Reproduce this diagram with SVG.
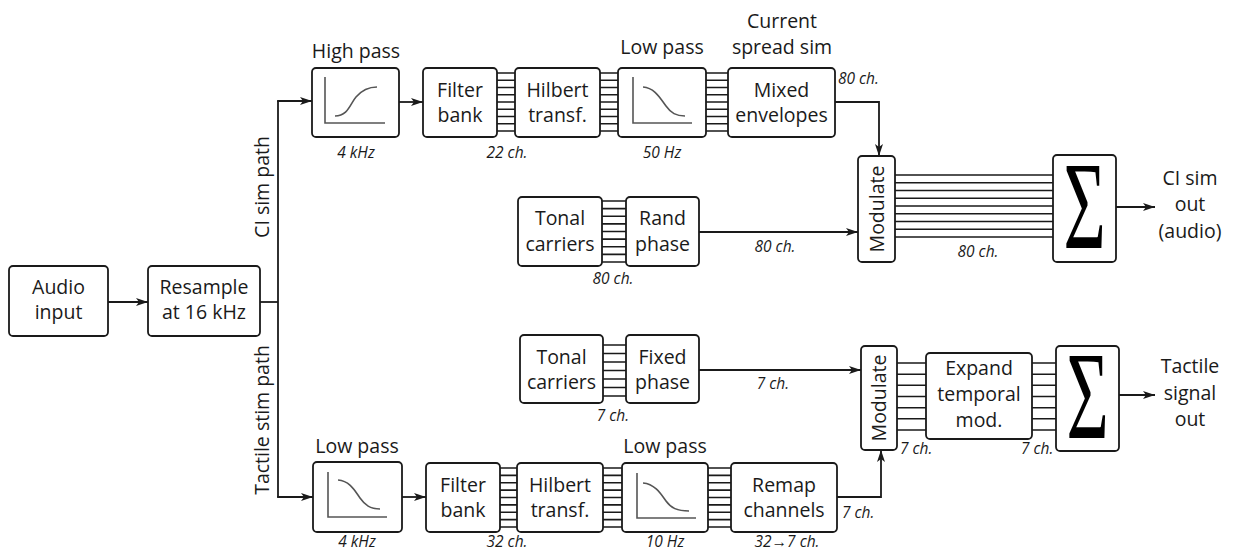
<svg xmlns="http://www.w3.org/2000/svg" width="1233" height="552" viewBox="0 0 1233 552">
<defs>
<marker id="arr" markerUnits="userSpaceOnUse" markerWidth="14" markerHeight="10" refX="12" refY="4" orient="auto">
<path d="M0,0 L12,4 L0,8 L3,4 z" fill="#1a1a1a"/>
</marker>
<style>
.box{fill:#fff;stroke:#1a1a1a;stroke-width:1.8}
.t{font-family:"Open Sans","Noto Sans",sans-serif;font-size:19.5px;fill:#1a1a1a;text-anchor:middle}
.i{font-family:"Open Sans","Noto Sans",sans-serif;font-size:15.5px;font-style:italic;fill:#1a1a1a;text-anchor:middle}
.il{font-family:"Open Sans","Noto Sans",sans-serif;font-size:15.5px;font-style:italic;fill:#1a1a1a}
.c{fill:none;stroke:#1a1a1a;stroke-width:1.8}
.a{fill:none;stroke:#1a1a1a;stroke-width:1.8;marker-end:url(#arr)}
.bus{stroke:#1a1a1a;stroke-width:1.6}
.ax{fill:none;stroke:#555;stroke-width:1.6}
.sig{font-family:"Liberation Serif",serif;font-size:125px;fill:#000;text-anchor:middle}
</style>
</defs>

<g id="connectors">
<line class="a" x1="108" y1="302" x2="148" y2="302"/>
<polyline class="c" points="260,302 278,302"/>
<polyline class="c" points="278,101 278,497"/>
<line class="a" x1="277.1" y1="101" x2="312" y2="101"/>
<line class="a" x1="277.1" y1="497" x2="313" y2="497"/>
<line class="a" x1="399" y1="102" x2="423" y2="102"/>
<line class="a" x1="402" y1="497" x2="426" y2="497"/>
<polyline class="a" points="835,102 879,102 879,156"/>
<line class="a" x1="699" y1="232" x2="858" y2="232"/>
<line class="a" x1="1116" y1="207" x2="1155" y2="207"/>
<line class="a" x1="699" y1="370" x2="861" y2="370"/>
<polyline class="a" points="837,497 881,497 881,450"/>
<line class="a" x1="1119" y1="395" x2="1155" y2="395"/>
<g id="bus-top-1">
<path class="bus" d="M497,73H515M497,80.3H515M497,87.5H515M497,94.8H515M497,102H515M497,109.3H515M497,116.5H515M497,123.8H515M497,131H515"/>
</g>
<g id="bus-top-2">
<path class="bus" d="M600,73H618M600,80.3H618M600,87.5H618M600,94.8H618M600,102H618M600,109.3H618M600,116.5H618M600,123.8H618M600,131H618"/>
</g>
<g id="bus-top-3">
<path class="bus" d="M706,73H728M706,80.3H728M706,87.5H728M706,94.8H728M706,102H728M706,109.3H728M706,116.5H728M706,123.8H728M706,131H728"/>
</g>
<g id="bus-carrier-80">
<path class="bus" d="M602,201H626M602,208.6H626M602,216.2H626M602,223.9H626M602,231.5H626M602,239.1H626M602,246.7H626M602,254.4H626M602,262H626"/>
</g>
<g id="bus-mod-sum-80">
<path class="bus" d="M895,175H1053M895,182.8H1053M895,190.5H1053M895,198.3H1053M895,206H1053M895,213.8H1053M895,221.5H1053M895,229.3H1053M895,237H1053"/>
</g>
<g id="bus-carrier-7">
<path class="bus" d="M603,345H626M603,353.5H626M603,362H626M603,370.5H626M603,379H626M603,387.5H626M603,396H626"/>
</g>
<g id="bus-bot-1">
<path class="bus" d="M500,468H517M500,475.4H517M500,482.8H517M500,490.1H517M500,497.5H517M500,504.9H517M500,512.3H517M500,519.6H517M500,527H517"/>
</g>
<g id="bus-bot-2">
<path class="bus" d="M603,468H622M603,475.4H622M603,482.8H622M603,490.1H622M603,497.5H622M603,504.9H622M603,512.3H622M603,519.6H622M603,527H622"/>
</g>
<g id="bus-bot-3">
<path class="bus" d="M708,468H731M708,475.4H731M708,482.8H731M708,490.1H731M708,497.5H731M708,504.9H731M708,512.3H731M708,519.6H731M708,527H731"/>
</g>
<g id="bus-mod-exp">
<path class="bus" d="M897,363H926M897,374.2H926M897,385.3H926M897,396.5H926M897,407.7H926M897,418.8H926M897,430H926"/>
</g>
<g id="bus-exp-sum">
<path class="bus" d="M1032,363H1056M1032,374.2H1056M1032,385.3H1056M1032,396.5H1056M1032,407.7H1056M1032,418.8H1056M1032,430H1056"/>
</g>
</g>

<g id="audio-input">
<rect class="box" x="9" y="266" width="99" height="70" rx="4"/>
<text class="t" x="58.5" y="294">Audio</text>
<text class="t" x="58.5" y="319">input</text>
</g>
<g id="resample">
<rect class="box" x="148" y="266" width="112" height="70" rx="4"/>
<text class="t" x="204" y="294">Resample</text>
<text class="t" x="204" y="319">at 16 kHz</text>
</g>
<g id="path-labels">
<text class="t" transform="translate(269,187) rotate(-90)">CI sim path</text>
<text class="t" transform="translate(269,420) rotate(-90)">Tactile stim path</text>
</g>

<g id="high-pass">
<text class="t" x="356" y="58">High pass</text>
<rect class="box" x="312" y="68" width="87" height="69" rx="4"/>
<path class="ax" d="M325,77V123H385"/>
<path class="ax" d="M335,116C348,116 350,104 356,97C362,90 368,87 377,87"/>
<text class="i" x="356" y="158">4 kHz</text>
</g>
<g id="filter-bank-top">
<rect class="box" x="423" y="68" width="74" height="69" rx="4"/>
<text class="t" x="460" y="97">Filter</text>
<text class="t" x="460" y="122">bank</text>
<text class="i" x="507" y="158">22 ch.</text>
</g>
<g id="hilbert-top">
<rect class="box" x="515" y="68" width="85" height="69" rx="4"/>
<text class="t" x="557.5" y="97">Hilbert</text>
<text class="t" x="557.5" y="122">transf.</text>
</g>
<g id="low-pass-top">
<text class="t" x="662" y="54">Low pass</text>
<rect class="box" x="618" y="68" width="88" height="69" rx="4"/>
<path class="ax" d="M633,77V123H692"/>
<path class="ax" d="M643,87C655,88 660,98 666,106C671,113 676,116 685,116"/>
<text class="i" x="662" y="158">50 Hz</text>
</g>
<g id="mixed-envelopes">
<text class="t" x="782" y="28">Current</text>
<text class="t" x="782" y="54">spread sim</text>
<rect class="box" x="728" y="68" width="107" height="69" rx="4"/>
<text class="t" x="781.5" y="97">Mixed</text>
<text class="t" x="781.5" y="122">envelopes</text>
<text class="il" x="838" y="84">80 ch.</text>
</g>

<g id="tonal-carriers-ci">
<rect class="box" x="518" y="197" width="84" height="69" rx="4"/>
<text class="t" x="560" y="225">Tonal</text>
<text class="t" x="560" y="251">carriers</text>
<text class="i" x="613" y="284">80 ch.</text>
</g>
<g id="rand-phase">
<rect class="box" x="626" y="197" width="73" height="69" rx="4"/>
<text class="t" x="662.5" y="225">Rand</text>
<text class="t" x="662.5" y="251">phase</text>
<text class="i" x="775" y="252">80 ch.</text>
</g>
<g id="modulate-ci">
<rect class="box" x="858" y="156" width="37" height="106" rx="4"/>
<text class="t" transform="translate(883.5,209) rotate(-90)">Modulate</text>
<text class="i" x="978" y="257">80 ch.</text>
</g>
<g id="sum-ci">
<rect class="box" x="1053" y="155" width="63" height="107" rx="4"/>
<text class="sig" transform="translate(1084.5,248) scale(0.58,1)">Σ</text>
</g>
<g id="ci-out">
<text class="t" x="1190" y="185">CI sim</text>
<text class="t" x="1190" y="211">out</text>
<text class="t" x="1190" y="238">(audio)</text>
</g>

<g id="tonal-carriers-tactile">
<rect class="box" x="520" y="335" width="83" height="68" rx="4"/>
<text class="t" x="561.5" y="364">Tonal</text>
<text class="t" x="561.5" y="389">carriers</text>
<text class="i" x="613" y="421">7 ch.</text>
</g>
<g id="fixed-phase">
<rect class="box" x="626" y="335" width="73" height="68" rx="4"/>
<text class="t" x="662.5" y="364">Fixed</text>
<text class="t" x="662.5" y="389">phase</text>
<text class="i" x="773" y="389">7 ch.</text>
</g>
<g id="modulate-tactile">
<rect class="box" x="861" y="346" width="36" height="104" rx="4"/>
<text class="t" transform="translate(886,398) rotate(-90)">Modulate</text>
<text class="il" x="900" y="454">7 ch.</text>
</g>
<g id="expand-temporal">
<rect class="box" x="926" y="353" width="106" height="86" rx="4"/>
<text class="t" x="979" y="375">Expand</text>
<text class="t" x="979" y="401">temporal</text>
<text class="t" x="979" y="427">mod.</text>
<text class="il" x="1021" y="454">7 ch.</text>
</g>
<g id="sum-tactile">
<rect class="box" x="1056" y="346" width="63" height="105" rx="4"/>
<text class="sig" transform="translate(1087.5,438) scale(0.58,1)">Σ</text>
</g>
<g id="tactile-out">
<text class="t" x="1190" y="373">Tactile</text>
<text class="t" x="1190" y="400">signal</text>
<text class="t" x="1190" y="426">out</text>
</g>

<g id="low-pass-4k">
<text class="t" x="357" y="453">Low pass</text>
<rect class="box" x="313" y="462" width="89" height="70" rx="4"/>
<path class="ax" d="M328,472V517H387"/>
<path class="ax" d="M338,480C350,481 355,491 360,498C365,505 370,509 380,509"/>
<text class="i" x="357" y="547">4 kHz</text>
</g>
<g id="filter-bank-bottom">
<rect class="box" x="426" y="463" width="74" height="69" rx="4"/>
<text class="t" x="463" y="492">Filter</text>
<text class="t" x="463" y="517">bank</text>
<text class="i" x="507" y="547">32 ch.</text>
</g>
<g id="hilbert-bottom">
<rect class="box" x="517" y="463" width="86" height="69" rx="4"/>
<text class="t" x="560" y="492">Hilbert</text>
<text class="t" x="560" y="517">transf.</text>
</g>
<g id="low-pass-10hz">
<text class="t" x="665" y="453">Low pass</text>
<rect class="box" x="622" y="463" width="86" height="69" rx="4"/>
<path class="ax" d="M637,473V518H696"/>
<path class="ax" d="M643,483C655,484 661,494 666,501C671,508 677,511 689,511"/>
<text class="i" x="665" y="547">10 Hz</text>
</g>
<g id="remap-channels">
<rect class="box" x="731" y="463" width="106" height="69" rx="4"/>
<text class="t" x="784" y="492">Remap</text>
<text class="t" x="784" y="517">channels</text>
<text class="i" x="787" y="547">32→7 ch.</text>
<text class="il" x="842" y="518">7 ch.</text>
</g>
</svg>
